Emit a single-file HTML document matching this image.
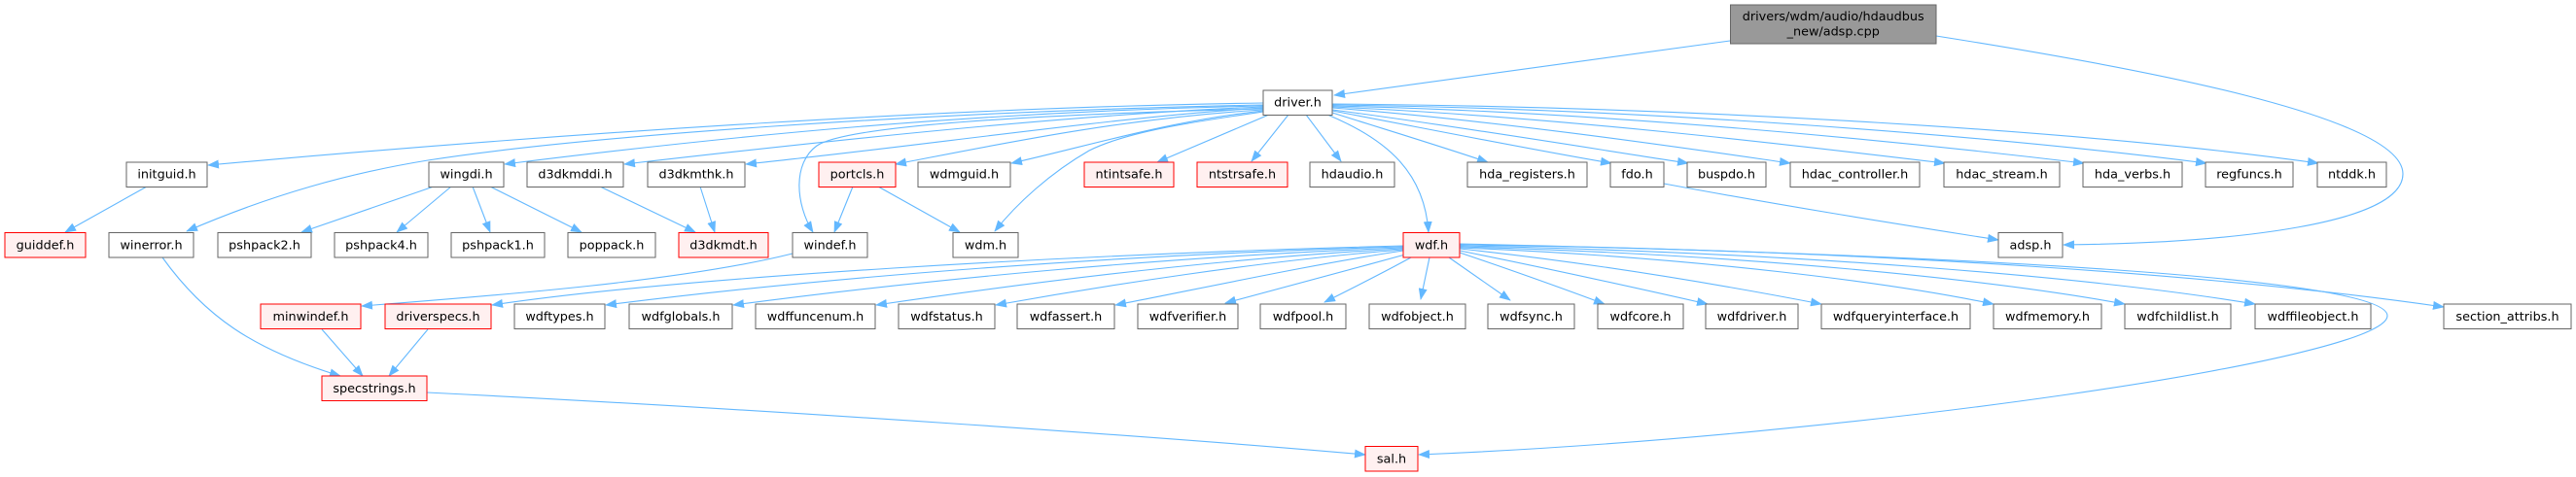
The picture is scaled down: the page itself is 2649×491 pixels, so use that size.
<!DOCTYPE html>
<html>
<head>
<meta charset="utf-8">
<style>
  html, body { margin: 0; padding: 0; background: #ffffff; }
  body { width: 2649px; height: 491px; overflow: hidden; }
  svg { display: block; }
  text { font-family: "DejaVu Sans", "Liberation Sans", sans-serif; font-size: 12.8px; fill: #000; text-anchor: middle; }
  .n { fill: #ffffff; stroke: #666666; stroke-width: 1; }
  .r { fill: #FFF0F0; stroke: #FF0000; stroke-width: 1; }
  .t { fill: #999999; stroke: #666666; stroke-width: 1; }
  .e { fill: none; stroke: #63B8FF; stroke-width: 1.1; marker-end: url(#a); }
</style>
</head>
<body>
<svg width="2649" height="491" viewBox="0 0 2649 491" xmlns="http://www.w3.org/2000/svg">
<defs>
  <marker id="a" viewBox="0 0 12 9" refX="11" refY="4.5" markerWidth="12" markerHeight="9" orient="auto" markerUnits="userSpaceOnUse">
    <path d="M0,0 L12,4.5 L0,9 z" fill="#63B8FF"/>
  </marker>
</defs>

<!-- ============ EDGES ============ -->
<!-- top node -->
<path class="e" d="M1779,42 L1372,98"/>
<path class="e" d="M1991,37 C2200,70 2471,120 2471,179 C2471,230 2300,250 2122,252"/>

<!-- driver.h left fan -->
<path class="e" d="M1299,106 C1000,110 600,135 214,170"/>
<path class="e" d="M1299,108 C950,115 600,140 440,165 C360,178 280,200 192,238"/>
<path class="e" d="M1299,109 C1000,115 750,140 519,169"/>
<path class="e" d="M1299,110 C1100,118 850,145 642,169"/>
<path class="e" d="M1299,111 C1150,120 950,150 767,169"/>
<path class="e" d="M1299,112 C1050,118 870,130 840,150 C815,168 818,210 836,239"/>
<path class="e" d="M1299,113 C1150,122 1020,150 921,169"/>
<path class="e" d="M1299,114 C1200,125 1120,150 1040,168"/>
<path class="e" d="M1299,115 C1230,125 1160,135 1120,155 C1080,178 1045,210 1023,238"/>
<!-- driver.h bottom -->
<path class="e" d="M1305,118 C1270,133 1230,150 1190,167"/>
<path class="e" d="M1325,118 L1287,166"/>
<path class="e" d="M1343,118 L1379,166"/>
<path class="e" d="M1365,118 C1430,145 1465,180 1469,239"/>
<!-- driver.h right fan -->
<path class="e" d="M1370,116 C1430,135 1480,150 1530,167"/>
<path class="e" d="M1370,114 C1480,135 1580,155 1657,168"/>
<path class="e" d="M1370,113 C1500,130 1650,155 1736,168"/>
<path class="e" d="M1370,111 C1550,125 1750,155 1841,168"/>
<path class="e" d="M1370,110 C1600,120 1850,150 2000,168"/>
<path class="e" d="M1370,109 C1650,115 1950,145 2143,168"/>
<path class="e" d="M1370,108 C1700,112 2050,140 2269,168"/>
<path class="e" d="M1370,107 C1750,110 2150,135 2384,168"/>

<!-- row3 -> row4 -->
<path class="e" d="M151,192 L67,239"/>
<path class="e" d="M446,192 L310,239"/>
<path class="e" d="M464,192 L408,239"/>
<path class="e" d="M486,192 L504,239"/>
<path class="e" d="M504,192 L598,239"/>
<path class="e" d="M617,192 L715,239"/>
<path class="e" d="M720,192 L735,239"/>
<path class="e" d="M877,192 L858,239"/>
<path class="e" d="M903,192 L987,239"/>
<path class="e" d="M1711,189 C1850,215 1980,235 2055,247"/>

<!-- row4 -> row5 -->
<path class="e" d="M815,261 C700,290 500,305 372,315"/>
<path class="e" d="M1443,253 C1100,262 700,285 506,314"/>
<path class="e" d="M1443,254 C1150,262 850,285 623,314"/>
<path class="e" d="M1443,255 C1200,264 950,288 754,314"/>
<path class="e" d="M1443,256 C1250,266 1050,292 901,314"/>
<path class="e" d="M1443,257 C1300,268 1130,295 1024,314"/>
<path class="e" d="M1443,258 C1350,272 1230,298 1147,314"/>
<path class="e" d="M1445,262 C1380,280 1310,298 1260,312"/>
<path class="e" d="M1451,265 C1420,282 1390,297 1362,311"/>
<path class="e" d="M1470,265 L1461,308"/>
<path class="e" d="M1490,265 L1553,309"/>
<path class="e" d="M1501,260 C1560,280 1610,298 1650,313"/>
<path class="e" d="M1501,258 C1600,278 1690,298 1756,313"/>
<path class="e" d="M1501,256 C1650,272 1780,295 1873,313"/>
<path class="e" d="M1501,255 C1750,265 1950,292 2050,313"/>
<path class="e" d="M1501,254 C1800,262 2050,288 2185,313"/>
<path class="e" d="M1501,253 C1850,260 2150,285 2319,313"/>
<path class="e" d="M1501,252 C1950,258 2300,285 2513,316"/>
<path class="e" d="M1501,251 C2000,262 2455,285 2455,325 C2455,370 1900,450 1459,468"/>

<!-- row4/5 -> row6 -->
<path class="e" d="M167,265 C210,325 260,360 350,387"/>
<path class="e" d="M331,339 L373,387"/>
<path class="e" d="M440,339 L400,387"/>
<!-- row6 -> row7 -->
<path class="e" d="M439,404 C800,422 1200,450 1404,468"/>

<!-- ============ NODES ============ -->
<!-- row 1 -->
<rect class="t" x="1779.5" y="5" width="211.5" height="40"/>
<text x="1885.2" y="21">drivers/wdm/audio/hdaudbus</text>
<text x="1885.2" y="36.5">_new/adsp.cpp</text>

<!-- row 2 -->
<rect class="n" x="1299" y="93" width="71" height="25.5"/><text x="1334.5" y="109.7">driver.h</text>

<!-- row 3 -->
<rect class="n" x="130" y="167" width="83" height="25.5"/><text x="171.5" y="183.7">initguid.h</text>
<rect class="n" x="441" y="167" width="77" height="25.5"/><text x="479.5" y="183.7">wingdi.h</text>
<rect class="n" x="542" y="167" width="99" height="25.5"/><text x="591.5" y="183.7">d3dkmddi.h</text>
<rect class="n" x="666" y="167" width="100" height="25.5"/><text x="716" y="183.7">d3dkmthk.h</text>
<rect class="r" x="842" y="167" width="79" height="25.5"/><text x="881.5" y="183.7">portcls.h</text>
<rect class="n" x="944" y="167" width="95" height="25.5"/><text x="991.5" y="183.7">wdmguid.h</text>
<rect class="r" x="1115" y="167" width="92" height="25.5"/><text x="1161" y="183.7">ntintsafe.h</text>
<rect class="r" x="1231" y="167" width="93" height="25.5"/><text x="1277.5" y="183.7">ntstrsafe.h</text>
<rect class="n" x="1347" y="167" width="87" height="25.5"/><text x="1390.5" y="183.7">hdaudio.h</text>
<rect class="n" x="1509" y="167" width="123" height="25.5"/><text x="1570.5" y="183.7">hda_registers.h</text>
<rect class="n" x="1656" y="167" width="55" height="25.5"/><text x="1683.5" y="183.7">fdo.h</text>
<rect class="n" x="1735" y="167" width="81" height="25.5"/><text x="1775.5" y="183.7">buspdo.h</text>
<rect class="n" x="1841" y="167" width="133" height="25.5"/><text x="1907.5" y="183.7">hdac_controller.h</text>
<rect class="n" x="1999" y="167" width="119" height="25.5"/><text x="2058.5" y="183.7">hdac_stream.h</text>
<rect class="n" x="2142" y="167" width="102" height="25.5"/><text x="2193" y="183.7">hda_verbs.h</text>
<rect class="n" x="2268" y="167" width="90" height="25.5"/><text x="2313" y="183.7">regfuncs.h</text>
<rect class="n" x="2383" y="167" width="71" height="25.5"/><text x="2418.5" y="183.7">ntddk.h</text>

<!-- row 4 -->
<rect class="r" x="5" y="239.5" width="83" height="25.5"/><text x="46.5" y="256.3">guiddef.h</text>
<rect class="n" x="112" y="239.5" width="87" height="25.5"/><text x="155.5" y="256.3">winerror.h</text>
<rect class="n" x="224" y="239.5" width="96" height="25.5"/><text x="272" y="256.3">pshpack2.h</text>
<rect class="n" x="344" y="239.5" width="96" height="25.5"/><text x="392" y="256.3">pshpack4.h</text>
<rect class="n" x="464" y="239.5" width="96" height="25.5"/><text x="512" y="256.3">pshpack1.h</text>
<rect class="n" x="584" y="239.5" width="90" height="25.5"/><text x="629" y="256.3">poppack.h</text>
<rect class="r" x="698" y="239.5" width="92" height="25.5"/><text x="744" y="256.3">d3dkmdt.h</text>
<rect class="n" x="815" y="239.5" width="77" height="25.5"/><text x="853.5" y="256.3">windef.h</text>
<rect class="n" x="980" y="239.5" width="67" height="25.5"/><text x="1013.5" y="256.3">wdm.h</text>
<rect class="r" x="1443" y="239.5" width="58" height="25.5"/><text x="1472" y="256.3">wdf.h</text>
<rect class="n" x="2055" y="239.5" width="66" height="25.5"/><text x="2088" y="256.3">adsp.h</text>

<!-- row 5 -->
<rect class="r" x="268" y="313" width="103" height="25.5"/><text x="319.5" y="329.8">minwindef.h</text>
<rect class="r" x="396" y="313" width="109" height="25.5"/><text x="450.5" y="329.8">driverspecs.h</text>
<rect class="n" x="529" y="313" width="93" height="25.5"/><text x="575.5" y="329.8">wdftypes.h</text>
<rect class="n" x="647" y="313" width="106" height="25.5"/><text x="700" y="329.8">wdfglobals.h</text>
<rect class="n" x="777" y="313" width="123" height="25.5"/><text x="838.5" y="329.8">wdffuncenum.h</text>
<rect class="n" x="924" y="313" width="99" height="25.5"/><text x="973.5" y="329.8">wdfstatus.h</text>
<rect class="n" x="1046" y="313" width="100" height="25.5"/><text x="1096" y="329.8">wdfassert.h</text>
<rect class="n" x="1170" y="313" width="103" height="25.5"/><text x="1221.5" y="329.8">wdfverifier.h</text>
<rect class="n" x="1296" y="313" width="88" height="25.5"/><text x="1340" y="329.8">wdfpool.h</text>
<rect class="n" x="1408" y="313" width="99" height="25.5"/><text x="1457.5" y="329.8">wdfobject.h</text>
<rect class="n" x="1530" y="313" width="89" height="25.5"/><text x="1574.5" y="329.8">wdfsync.h</text>
<rect class="n" x="1643" y="313" width="88" height="25.5"/><text x="1687" y="329.8">wdfcore.h</text>
<rect class="n" x="1754" y="313" width="95" height="25.5"/><text x="1801.5" y="329.8">wdfdriver.h</text>
<rect class="n" x="1873" y="313" width="153" height="25.5"/><text x="1949.5" y="329.8">wdfqueryinterface.h</text>
<rect class="n" x="2050" y="313" width="111" height="25.5"/><text x="2105.5" y="329.8">wdfmemory.h</text>
<rect class="n" x="2185" y="313" width="109" height="25.5"/><text x="2239.5" y="329.8">wdfchildlist.h</text>
<rect class="n" x="2319" y="313" width="119" height="25.5"/><text x="2378.5" y="329.8">wdffileobject.h</text>
<rect class="n" x="2513" y="313" width="131" height="25.5"/><text x="2578.5" y="329.8">section_attribs.h</text>

<!-- row 6 -->
<rect class="r" x="331" y="387" width="108" height="25.5"/><text x="385" y="403.8">specstrings.h</text>

<!-- row 7 -->
<rect class="r" x="1404" y="459.5" width="54" height="25.5"/><text x="1431" y="476.3">sal.h</text>
</svg>
</body>
</html>
